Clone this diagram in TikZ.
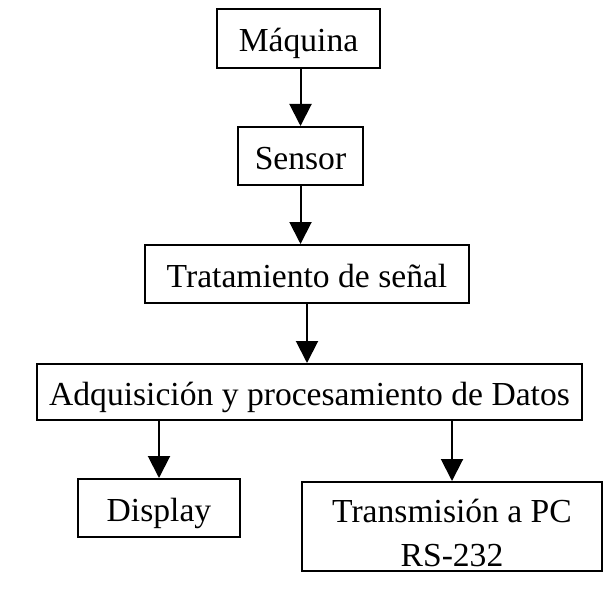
\documentclass[tikz,border=0pt]{standalone}
\usepackage{fontspec}
\setmainfont{Liberation Serif}
\usetikzlibrary{arrows.meta,positioning}

\begin{document}
\begin{tikzpicture}[x=1pt,y=-1pt,
        caja/.style={draw, line width=2pt, inner sep=0pt, align=center,
                font=\fontsize{33.6}{44}\selectfont},
        linea/.style={caja, text height=34pt, text depth=8pt},
        flecha/.style={line width=2pt, -{Triangle[width=22pt,length=22pt]}}]
                \useasboundingbox (0,0) rectangle (612,588);

                \node [linea, minimum width=163pt, minimum height=59pt]
                                        (maq) at (298.5,38.5) {Máquina};
                \node [linea, minimum width=125pt, minimum height=58pt]
                                        (sen) at (300.5,156) {Sensor};
                \node [linea, minimum width=324pt, minimum height=58pt]
                                        (trat) at (307,274) {Tratamiento de señal};
                \node [linea, minimum width=545pt, minimum height=56pt]
                                        (adq) at (309.5,392) {Adquisición y procesamiento de Datos};
                \node [linea, minimum width=162pt, minimum height=58pt]
                                        (disp) at (159,508) {Display};
                \node [caja, minimum width=300pt, minimum height=89pt]
                                        (trans) at (452,526.5) {\rule{0pt}{36pt}Transmisión a PC\\RS-232};

                \draw[flecha] (maq.south -| sen) -- (sen.north);
                \draw[flecha] (sen.south) -- (sen.south |- trat.north);
                \draw[flecha] (trat.south) -- (trat.south |- adq.north);
                \draw[flecha] (adq.south -| disp) -- (disp.north);
                \draw[flecha] (adq.south -| trans) -- (trans.north);
\end{tikzpicture}
\end{document}
